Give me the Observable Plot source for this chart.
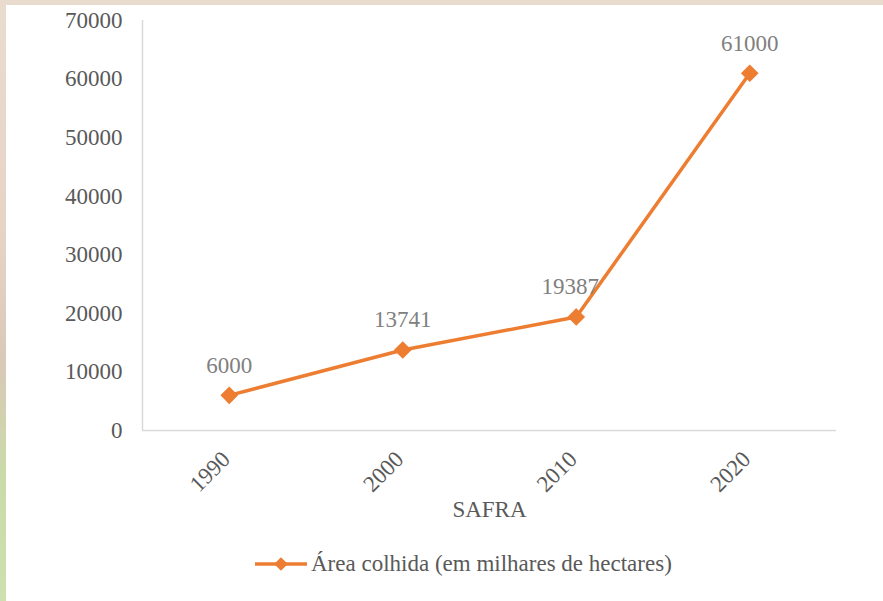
<!DOCTYPE html>
<html>
<head>
<meta charset="utf-8">
<script src="https://cdn.jsdelivr.net/npm/d3@7"></script>
<script src="https://cdn.jsdelivr.net/npm/@observablehq/plot@0.6"></script>
<style>
  html, body { margin: 0; padding: 0; width: 883px; height: 601px; overflow: hidden;
    background: linear-gradient(180deg, #e9dccf 0%, #e6d3c6 40%, #d9c9b8 60%, #c9dba8 80%, #cfe0b0 100%); }
  #panel { position: absolute; left: 6px; top: 5px; right: 0; bottom: 0; background: #fff; }
  #chart { position: absolute; left: 0; top: 0; }
  #chart svg, #chart svg text { font-family: 'Liberation Serif', 'Times New Roman', serif !important; }
  #legend { position: absolute; left: 255px; top: 551px; display: flex; align-items: center;
    font-family: 'Liberation Serif', 'Times New Roman', serif; font-size: 23px; color: #595959; }
</style>
</head>
<body>
<div id="panel"></div>
<div id="chart"></div>
<div id="legend"></div>
<script>
const years = [1990, 2000, 2010, 2020];
const area = [6000, 13741, 19387, 61000];
const yTicks = [0, 10000, 20000, 30000, 40000, 50000, 60000, 70000];
const seriesName = "Área colhida (em milhares de hectares)";
const xTitle = "SAFRA";

const data = years.map((y, i) => ({year: y, value: area[i]}));
const orange = "#ED7D31";
const font = "'Liberation Serif', 'Times New Roman', serif";

const chart = Plot.plot({
  width: 883,
  height: 530,
  marginLeft: 142,
  marginRight: 47,
  marginTop: 20,
  marginBottom: 100,
  style: {background: "transparent", fontFamily: font, fontSize: "23px", color: "#595959"},
  x: {domain: [1985, 2025], ticks: years, tickFormat: d => String(d)},
  y: {domain: [0, 70000], ticks: yTicks},
  marks: [
    Plot.ruleY([0], {stroke: "#d9d9d9", strokeWidth: 1.5}),
    Plot.ruleX([1985], {stroke: "#d9d9d9", strokeWidth: 1.5}),
    Plot.axisY({ticks: yTicks, tickSize: 0, tickPadding: 20, label: null, fill: "#595959", fontSize: 23, tickFormat: d => String(d)}),
    Plot.axisX({ticks: years, tickSize: 0, tickPadding: 25, dx: -3, tickRotate: -45, label: null, fill: "#595959", fontSize: 23, tickFormat: d => String(d)}),
    Plot.text([xTitle], {frameAnchor: "bottom", dy: 86, fill: "#595959", fontSize: 23}),
    Plot.line(data, {x: "year", y: "value", stroke: orange, strokeWidth: 3.5}),
    Plot.dot(data, {x: "year", y: "value", symbol: "diamond2", r: 7, fill: orange, stroke: orange}),
    Plot.text(data.filter(d => d.year !== 2010), {x: "year", y: "value", text: d => String(d.value), dy: -30, fill: "#808080", fontSize: 23}),
    Plot.text(data.filter(d => d.year === 2010), {x: "year", y: "value", text: d => String(d.value), dy: -30, dx: -6, fill: "#808080", fontSize: 23})
  ]
});
document.getElementById("chart").appendChild(chart);

// legend
const leg = document.getElementById("legend");
const sw = d3.create("svg").attr("width", 54).attr("height", 20).style("margin-right", "2px");
sw.append("line").attr("x1", 0).attr("x2", 52).attr("y1", 10).attr("y2", 10).attr("stroke", orange).attr("stroke-width", 3.5);
sw.append("path").attr("d", d3.symbol(d3.symbolDiamond2, 120)()).attr("transform", "translate(26,10)").attr("fill", orange);
leg.appendChild(sw.node());
const span = document.createElement("span");
span.textContent = seriesName;
leg.appendChild(span);
</script>
</body>
</html>
